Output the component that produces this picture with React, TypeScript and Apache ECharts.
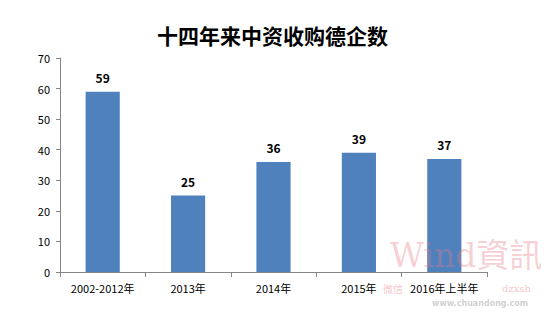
import React, { useEffect, useRef } from "react";
import * as echarts from "echarts";

const categories = ["2002-2012年", "2013年", "2014年", "2015年", "2016年上半年"];
const values = [59, 25, 36, 39, 37];
const yTicks = [0, 10, 20, 30, 40, 50, 60, 70];

export default function App() {
  const ref = useRef<HTMLDivElement>(null);
  useEffect(() => {
    if (!ref.current) return;
    const chart = echarts.init(ref.current, null, { renderer: "svg" });
    const font = "'Noto Sans CJK SC', 'Noto Sans', sans-serif";
    chart.setOption({
      animation: false,
      backgroundColor: "#ffffff",
      title: {
        text: "十四年来中资收购德企数",
        left: "center",
        top: 19,
        textStyle: { fontFamily: font, fontSize: 21, fontWeight: "bold", color: "#000" },
      },
      grid: { left: 60, right: 58, top: 58, bottom: 42, containLabel: false },
      xAxis: {
        type: "category",
        data: categories,
        axisLine: { lineStyle: { color: "#868686", width: 1 } },
        axisTick: { show: true, length: 5, lineStyle: { color: "#868686" } },
        axisLabel: { color: "#000", fontSize: 11, fontFamily: font, margin: 10, interval: 0 },
      },
      yAxis: {
        type: "value",
        min: yTicks[0],
        max: yTicks[yTicks.length - 1],
        interval: 10,
        axisLine: { show: true, lineStyle: { color: "#868686", width: 1 } },
        axisTick: { show: true, length: 4, lineStyle: { color: "#868686" } },
        splitLine: { show: false },
        axisLabel: { color: "#000", fontSize: 11, fontFamily: font, margin: 10 },
      },
      series: [
        {
          type: "bar",
          data: values,
          barWidth: "40%",
          itemStyle: { color: "#4F81BD" },
          label: {
            show: true,
            position: "top",
            distance: 8,
            color: "#000",
            fontSize: 12,
            fontWeight: "bold",
            fontFamily: font,
          },
        },
      ],
      graphic: [
        {
          type: "text",
          left: 390,
          top: 239,
          z: 10,
          style: {
            text: "Wind資訊",
            fill: "rgba(232,120,130,0.35)",
            font: "normal 33px 'DejaVu Serif', 'Noto Sans CJK TC', serif",
          },
        },
        {
          type: "text",
          left: 383,
          top: 283,
          z: 10,
          style: {
            text: "微信",
            fill: "rgba(232,120,130,0.45)",
            font: "normal 10px 'Noto Sans CJK SC', serif",
          },
        },
        {
          type: "text",
          left: 502,
          top: 283,
          z: 10,
          style: {
            text: "dzxsh",
            fill: "rgba(232,120,130,0.45)",
            font: "normal 10px 'DejaVu Serif', serif",
          },
        },
        {
          type: "text",
          left: 432,
          top: 299,
          z: 10,
          style: {
            text: "www.chuandong.com",
            fill: "rgba(160,160,160,0.5)",
            font: "bold 8px 'DejaVu Sans', sans-serif",
          },
        },
      ],
    });
    return () => chart.dispose();
  }, []);
  return <div ref={ref} style={{ width: 545, height: 314, position: "absolute", left: 0, top: 0 }} />;
}
